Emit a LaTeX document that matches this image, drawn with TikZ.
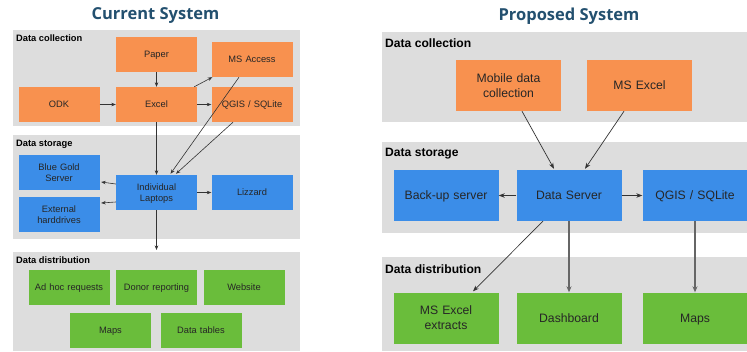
\documentclass[tikz,border=0pt]{standalone}
\usepackage{fontspec}
\setmainfont{Liberation Sans}
\newfontfamily\titlefont{Open Sans}
\usetikzlibrary{arrows.meta,calc}
\newcommand\capstrut{\rule[-0.25em]{0pt}{1.2em}}
\definecolor{panelgray}{HTML}{DDDDDD}
\definecolor{boxorange}{HTML}{F8914F}
\definecolor{boxblue}{HTML}{3B8DE8}
\definecolor{boxgreen}{HTML}{6ABD3B}
\definecolor{titleblue}{HTML}{23506F}
\definecolor{arrowgray}{HTML}{333333}
\tikzset{
  panel/.style={fill=panelgray, draw=none},
  strutted/.style={execute at begin node={\capstrut}, execute at end node={\capstrut}},
  smallbox/.style={strutted, draw=none, minimum width=81pt, minimum height=35pt, inner sep=1pt, align=center, text width=78pt, font=\fontsize{9.3}{11.5}\selectfont, text=black!85},
  bigbox/.style={strutted, draw=none, minimum width=105pt, minimum height=51pt, inner sep=1pt, align=center, text width=100pt, font=\fontsize{12.2}{15}\selectfont, text=black!85},
  orangebox/.style={fill=boxorange},
  bluebox/.style={fill=boxblue},
  greenbox/.style={fill=boxgreen},
  smalllabel/.style={anchor=west, font=\bfseries\fontsize{9.3}{11}\selectfont, inner sep=0pt},
  biglabel/.style={anchor=west, font=\bfseries\fontsize{12.1}{14}\selectfont, inner sep=0pt},
  titletext/.style={font=\titlefont\bfseries\fontsize{16.5}{20}\selectfont, text=titleblue, inner sep=0pt},
  sarrow/.style={draw=arrowgray, line width=0.6pt, -{Stealth[length=4.5pt,width=3.5pt]}},
  barrow/.style={draw=arrowgray, line width=0.7pt, -{Stealth[length=6pt,width=4.5pt]}},
  garrow/.style={draw=black!60, line width=1.2pt, -{Stealth[length=6pt,width=5pt]}},
}
\begin{document}
\begin{tikzpicture}[x=1pt,y=-1pt]
\useasboundingbox (0,0) rectangle (747,351);
\fill[white] (0,0) rectangle (747,351);
% ---------- Current system ----------
\node[titletext] (t1) at (155.5,16) {Current System};
\fill[panel] (13,30) rectangle (300,126);
\fill[panel] (13,135) rectangle (300,239);
\fill[panel] (13,252) rectangle (300,351);
\node[smalllabel] (l1) at (16,38) {Data collection};
\node[smalllabel] (l2) at (16,144) {Data storage};
\node[smalllabel] (l3) at (16,260) {Data distribution};

\node[smallbox,orangebox] (paper) at (156.5,54.5) {Paper};
\node[smallbox,orangebox] (msaccess) at (252,59.5) {MS Access};
\node[smallbox,orangebox] (odk) at (59,104.5) {ODK};
\node[smallbox,orangebox] (excel) at (156.5,104.5) {Excel};
\node[smallbox,orangebox] (qgis) at (252,104.5) {QGIS / SQLite};

\node[smallbox,bluebox] (bluegold) at (59,172.5) {Blue Gold\\Server};
\node[smallbox,bluebox] (laptops) at (156.5,192.5) {Individual\\Laptops};
\node[smallbox,bluebox] (lizzard) at (252,192.5) {Lizzard};
\node[smallbox,bluebox] (external) at (59,214.5) {External\\harddrives};

\node[smallbox,greenbox] (adhoc) at (69,287.5) {Ad hoc requests};
\node[smallbox,greenbox] (donor) at (156.5,287.5) {Donor reporting};
\node[smallbox,greenbox] (website) at (244,287.5) {Website};
\node[smallbox,greenbox] (maps) at (110.5,330) {Maps};
\node[smallbox,greenbox] (tables) at (201,330) {Data tables};

\coordinate (distin) at (156.5,250);

\draw[sarrow] (paper) -- (excel);
\draw[sarrow] (odk) -- (excel);
\draw[sarrow] (excel) -- (qgis);
\draw[sarrow] ($(excel.north east)+(-3,0)$) -- ($(msaccess.south west)+(1,0)$);
\draw[sarrow] (excel) -- (laptops);
\draw[sarrow] ($(msaccess.south)+(-13,0)$) -- ($(laptops.north)+(14,-1)$);
\draw[sarrow] ($(qgis.south)+(-19,0)$) -- ($(laptops.north)+(19.5,-1)$);
\draw[sarrow] ($(laptops.west)+(0,-8.5)$) -- ($(bluegold.east)+(1.5,9.5)$);
\draw[sarrow] ($(laptops.west)+(0,9.5)$) -- ($(external.east)+(1.5,-11.5)$);
\draw[sarrow] (laptops) -- (lizzard);
\draw[sarrow] (laptops.south) -- (distin);

% ---------- Proposed system ----------
\node[titletext] (t2) at (569,16) {Proposed System};
\fill[panel] (382,32) rectangle (747,122);
\fill[panel] (382,142) rectangle (747,233);
\fill[panel] (382,257) rectangle (747,351);
\node[biglabel] (r1) at (385,43) {Data collection};
\node[biglabel] (r2) at (385,154) {Data storage};
\node[biglabel] (r3) at (385,269) {Data distribution};

\node[bigbox,orangebox] (mobile) at (508.5,85.5) {Mobile data\\collection};
\node[bigbox,orangebox] (msexcel) at (639.5,85.5) {MS Excel};

\node[bigbox,bluebox] (backup) at (446,195.5) {Back-up server};
\node[bigbox,bluebox] (dserver) at (569,195.5) {Data Server};
\node[bigbox,bluebox] (qgis2) at (695,195.5) {QGIS / SQLite};

\node[bigbox,greenbox] (extracts) at (446,318) {MS Excel\\extracts};
\node[bigbox,greenbox] (dashboard) at (569,318) {Dashboard};
\node[bigbox,greenbox] (maps2) at (695,318) {Maps};

\draw[barrow] ($(mobile.south)+(13.5,0)$) -- ($(dserver.north)+(-15,-1)$);
\draw[barrow] ($(msexcel.south)+(-15.5,0)$) -- ($(dserver.north)+(16,-1)$);
\draw[barrow] (dserver) -- (backup);
\draw[barrow] (dserver) -- (qgis2);
\draw[barrow] ($(dserver.south)+(-26,0)$) -- ($(extracts.north)+(27,-1)$);
\draw[garrow] (dserver) -- (dashboard);
\draw[garrow] (qgis2) -- (maps2);
\end{tikzpicture}
\end{document}
